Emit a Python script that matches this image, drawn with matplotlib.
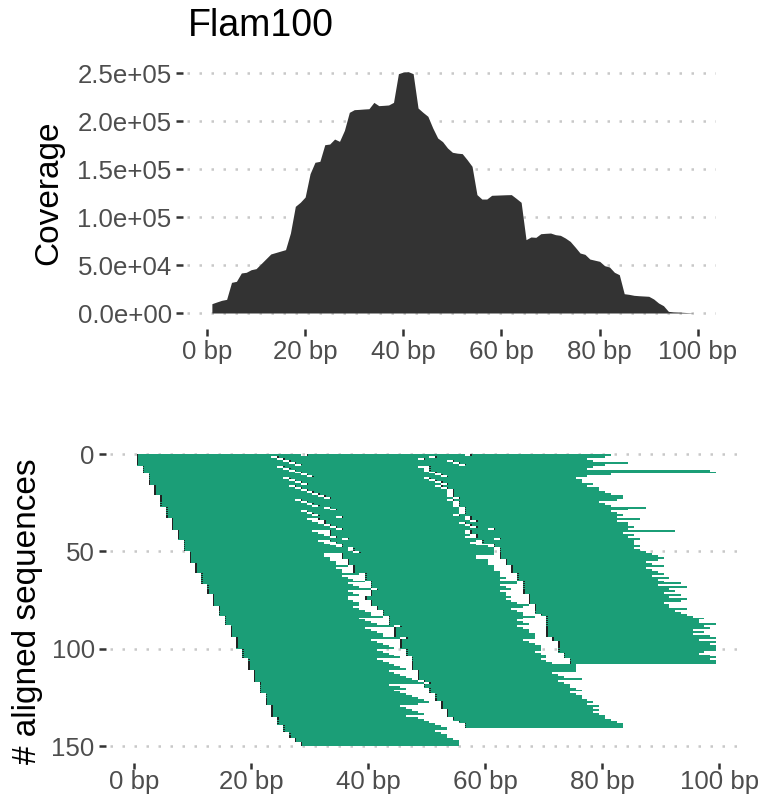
import numpy as np
import matplotlib.pyplot as plt

plt.rcParams['font.family'] = ['Liberation Sans', 'DejaVu Sans']

# ---- coverage profile (top panel) ----
positions = list(range(1, 100))
coverage = [
    9700, 11500, 13200, 14200, 31900, 33000, 41700, 42400, 45100, 46200,
    51300, 56400, 61500, 63000, 64500, 66000, 83300, 111100, 115300, 120800,
    145100, 157000, 158000, 175300, 176000, 181200, 178800, 190300, 209000, 211800,
    212100, 212500, 212800, 219400, 216000, 216300, 216700, 219400, 249300, 251000,
    251400, 249300, 213500, 209000, 204900, 192700, 182300, 178500, 171900, 167400,
    166500, 166000, 159700, 152800, 123300, 118700, 118700, 122600, 122800, 123000,
    123200, 123300, 119400, 115300, 76400, 79200, 78800, 82600, 83000, 83300,
    81600, 80900, 78100, 74600, 68700, 62500, 61100, 56200, 55000, 53800,
    49300, 47900, 42400, 39900, 20100, 19400, 18400, 18000, 17700, 17400,
    14600, 10400, 7600, 1700, 1200, 1000, 700, 400, 200,
]
cov_ticks = [0, 50000, 100000, 150000, 200000, 250000]
bp_ticks = [0, 20, 40, 60, 80, 100]

# ---- aligned sequences (bottom panel) ----
# number of reads starting at position 1, 2, 3, ...
start_counts = [6, 4, 6, 5, 6, 6, 6, 5, 6, 6, 5, 6, 5, 6, 5, 5, 6, 6, 5, 6,
                6, 6, 6, 6, 4, 4, 3, 2, 2]
# first and last gap position of the two gap bands per read (0 = no gap)
gap1_lo = [29, 24, 25, 26, 27, 28, 25, 26, 27, 28, 29, 30, 26, 27, 28, 29, 27, 28, 29, 30,
           31, 32, 33, 28, 29, 30, 31, 33, 34, 29, 30, 31, 35, 30, 31, 32, 33, 34, 35, 31,
           32, 33, 34, 36, 32, 33, 34, 35, 37, 37, 38, 33, 33, 34, 34, 35, 35, 37, 35, 36,
           36, 39, 36, 37, 38, 40, 37, 38, 39, 41, 37, 38, 39, 37, 37, 38, 39, 39, 38, 39,
           40, 41, 41, 43, 39, 40, 41, 42, 45, 40, 41, 42, 43, 43, 46, 41, 42, 43, 44, 45,
           42, 43, 44, 45, 46, 42, 43, 44, 45, 46, 47, 44, 45, 46, 47, 48, 49, 50, 44, 46,
           47, 45, 46, 47, 48, 49, 50, 51, 49, 46, 47, 48, 49, 50, 47, 49, 50, 51, 52, 53,
           54, 0, 0, 0, 0, 0, 0, 0, 0, 0]
gap1_hi = [29, 24, 25, 26, 27, 28, 25, 26, 27, 28, 29, 30, 26, 27, 28, 29, 27, 28, 29, 30,
           31, 32, 33, 28, 29, 30, 31, 33, 34, 29, 30, 31, 35, 31, 32, 32, 33, 34, 35, 33,
           33, 33, 34, 36, 33, 34, 35, 35, 37, 37, 38, 35, 35, 35, 36, 36, 36, 37, 37, 37,
           37, 39, 39, 39, 39, 40, 40, 40, 40, 41, 40, 40, 40, 39, 39, 40, 40, 40, 41, 41,
           42, 42, 42, 43, 43, 43, 43, 43, 45, 44, 44, 44, 44, 44, 46, 45, 45, 45, 45, 45,
           46, 46, 46, 46, 47, 47, 47, 47, 47, 47, 47, 48, 48, 48, 48, 48, 49, 50, 49, 49,
           50, 50, 50, 51, 51, 51, 51, 52, 52, 52, 52, 53, 53, 53, 53, 54, 54, 55, 56, 56,
           56, 0, 0, 0, 0, 0, 0, 0, 0, 0]
gap2_lo = [57, 51, 49, 54, 55, 56, 49, 50, 50, 51, 52, 53, 50, 51, 52, 53, 52, 53, 54, 54,
           54, 54, 55, 54, 55, 55, 55, 56, 56, 56, 56, 55, 57, 57, 58, 56, 57, 58, 61, 57,
           57, 58, 57, 62, 59, 58, 59, 61, 62, 62, 62, 62, 59, 59, 61, 61, 61, 62, 62, 62,
           63, 63, 63, 64, 63, 66, 66, 63, 64, 65, 63, 64, 64, 65, 64, 65, 66, 68, 67, 65,
           66, 67, 67, 69, 67, 66, 67, 68, 66, 67, 68, 68, 69, 69, 69, 67, 68, 69, 70, 70,
           70, 69, 70, 71, 71, 70, 71, 72] + [0] * 42
gap2_hi = [57, 51, 49, 54, 55, 56, 50, 50, 50, 51, 52, 53, 50, 51, 52, 53, 52, 53, 54, 54,
           54, 54, 55, 54, 55, 55, 55, 56, 56, 56, 56, 55, 57, 57, 58, 56, 57, 58, 61, 57,
           57, 58, 58, 62, 59, 59, 61, 61, 62, 62, 62, 62, 62, 62, 63, 63, 63, 64, 64, 64,
           64, 65, 65, 65, 65, 66, 66, 66, 66, 66, 66, 66, 67, 67, 67, 67, 67, 68, 68, 68,
           68, 68, 69, 70, 70, 70, 70, 70, 70, 70, 70, 70, 70, 70, 71, 71, 72, 72, 72, 72,
           72, 72, 73, 73, 73, 74, 74, 74] + [0] * 42
read_end = [81, 80, 77, 78, 84, 80, 78, 77, 98, 99, 81, 77, 75, 76, 76, 78, 77, 79, 79, 80,
            81, 83, 83, 82, 79, 80, 81, 87, 84, 81, 82, 83, 82, 86, 82, 84, 84, 85, 84, 92,
            83, 85, 84, 86, 85, 85, 85, 86, 85, 86, 87, 88, 89, 90, 89, 87, 88, 90, 87, 88,
            89, 90, 88, 91, 89, 90, 93, 89, 94, 91, 92, 90, 93, 91, 94, 93, 90, 91, 91, 94,
            92, 93, 94, 95, 97, 96, 96, 99, 97, 98, 95, 97, 95, 98, 99, 96, 99, 98, 99, 99,
            99, 97, 96, 98, 99, 98, 99, 99, 75, 75, 75, 75, 71, 72, 73, 76, 72, 73, 74, 74,
            75, 76, 74, 75, 76, 76, 77, 78, 77, 79, 78, 79, 78, 79, 80, 80, 81, 82, 83, 83,
            83, 53, 51, 52, 53, 53, 54, 55, 55, 55]
seq_ticks = [0, 50, 100, 150]

green = '#1B9E77'
dark = '#333333'


def style_axis(ax):
    for s in ax.spines.values():
        s.set_color('none')
    ax.spines['left'].set_position(('outward', 3))
    ax.spines['bottom'].set_position(('outward', 3))
    ax.tick_params(length=5, width=1.8, color=dark, labelcolor='#4D4D4D',
                   labelsize=18.6, pad=3)
    ax.grid(axis='y', color='#C8C8C8', linewidth=1.8, linestyle=(0, (1, 3.8)))
    ax.set_axisbelow(True)


fig = plt.figure(figsize=(7.59, 7.98), dpi=100)
ax1 = fig.add_axes([187 / 759, 1 - 325 / 798, 529 / 759, 264 / 798])
ax2 = fig.add_axes([110 / 759, 1 - 760.6 / 798, 636 / 759, 321.2 / 798])

# top panel
ax1.fill_between(positions, 0, coverage, color=dark, linewidth=0)
ax1.set_xlim(-4.07, 103.7)
ax1.set_ylim(-12500, 262500)
ax1.set_yticks(cov_ticks, [f'{v:.1e}' for v in cov_ticks])
ax1.set_xticks(bp_ticks, [f'{v} bp' for v in bp_ticks])
style_axis(ax1)

# bottom panel
row_start = np.repeat(np.arange(1, len(start_counts) + 1), start_counts)
seg_y, seg_left, seg_w = [], [], []
mark_y, mark_x = [], []
for r in range(len(read_end)):
    cur = row_start[r]
    mark_y.append(r)
    mark_x.append(cur)
    for lo, hi in [(gap1_lo[r], gap1_hi[r]), (gap2_lo[r], gap2_hi[r])]:
        if lo > 0:
            seg_y.append(r)
            seg_left.append(cur - 0.5)
            seg_w.append(lo - cur)
            cur = hi + 1
            mark_y.append(r)
            mark_x.append(cur)
    seg_y.append(r)
    seg_left.append(cur - 0.5)
    seg_w.append(read_end[r] - cur + 1)

seg_y = np.array(seg_y) + 0.5
ax2.barh(seg_y, seg_w, left=seg_left, height=1.0, color=green,
         linewidth=0, antialiased=False)
ax2.barh(np.array(mark_y) + 0.5, 0.25, left=np.array(mark_x) - 0.5, height=0.8,
         color='#222222', linewidth=0)
ax2.set_xlim(-4.1, 104.6)
ax2.set_ylim(157.5, -7.5)
ax2.set_yticks(seq_ticks, [str(v) for v in seq_ticks])
ax2.set_xticks(bp_ticks, [f'{v} bp' for v in bp_ticks])
style_axis(ax2)
ax2.spines['bottom'].set_position(('outward', 1.5))
ax2.tick_params(axis='x', length=4, pad=1)

fig.text(188 / 759, 1 - 36 / 798, 'Flam100', fontsize=27, ha='left', va='baseline')
fig.text(49 / 759, 1 - 193 / 798, 'Coverage', fontsize=24, rotation=90,
         ha='center', va='center')
fig.text(27.5 / 759, 1 - 611 / 798, '# aligned sequences', fontsize=24, rotation=90,
         ha='center', va='center')

fig.savefig('out.png', dpi=100)
